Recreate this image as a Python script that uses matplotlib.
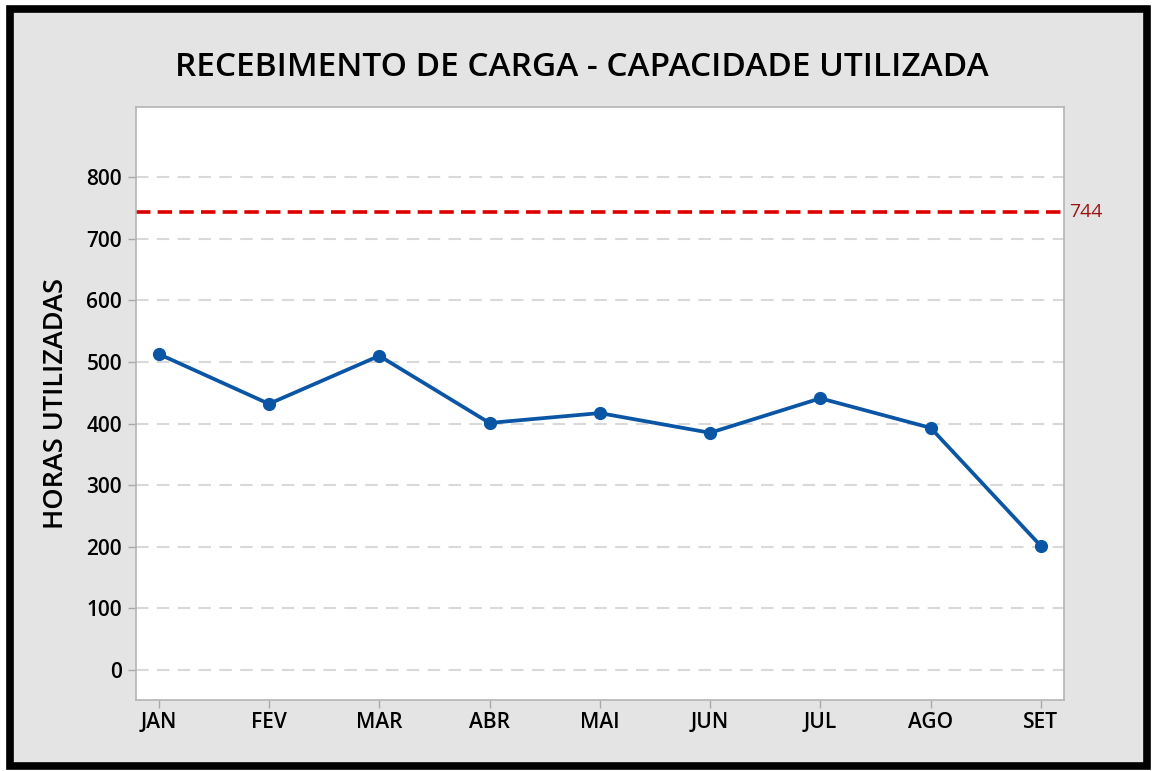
import matplotlib.pyplot as plt
from matplotlib.patches import Rectangle

meses = ["JAN", "FEV", "MAR", "ABR", "MAI", "JUN", "JUL", "AGO", "SET"]
horas = [513, 432, 510, 401, 417, 385, 441, 393, 201]
capacidade = 744
y_ticks = [0, 100, 200, 300, 400, 500, 600, 700, 800]

plt.rcParams["font.family"] = ["Open Sans", "DejaVu Sans"]

fig = plt.figure(figsize=(11.54, 7.71), dpi=100)
fig.patch.set_facecolor("#e4e4e4")

# moldura preta em volta da figura
fig.patches.append(Rectangle((0, 0), 1, 1, transform=fig.transFigure,
                             fill=False, edgecolor="white", linewidth=10))
fig.patches.append(Rectangle((0.009, 0.006), 0.985, 0.982, transform=fig.transFigure,
                             fill=False, edgecolor="black", linewidth=5.5))

ax = fig.add_axes([0.1179, 0.0921, 0.8042, 0.769])
ax.set_facecolor("white")

x = list(range(len(meses)))
ax.plot(x, horas, color="#0a56a5", linewidth=2.7, marker="o", markersize=8.5, zorder=3)
ax.axhline(capacidade, color="#dd0000", linewidth=2.6, linestyle=(0, (4, 2)), zorder=2)
ax.text(8.26, capacidade, str(capacidade), color="#9c1515", fontsize=14,
        va="center", ha="left", transform=ax.transData, clip_on=False)

ax.set_xlim(-0.205, 8.21)
ax.set_ylim(-49, 914)
ax.set_xticks(x)
ax.set_xticklabels(meses)
ax.set_yticks(y_ticks)
for t in y_ticks:
    ax.axhline(t, color="#d9d9d9", linewidth=1.5, linestyle=(0, (6, 4)), zorder=1)

ax.tick_params(axis="both", direction="out", length=6, width=1, color="#a8a8a8",
               labelsize=15, labelcolor="black")
for lab in ax.get_xticklabels() + ax.get_yticklabels():
    lab.set_fontweight("semibold")
ax.tick_params(axis="x", pad=3)
ax.tick_params(axis="y", pad=4)

for s in ax.spines.values():
    s.set_color("#b4b4b4")
    s.set_linewidth(1.2)

ax.set_ylabel("HORAS UTILIZADAS", fontsize=19.5, fontweight="semibold", labelpad=12)
fig.text(0.504, 0.912, "RECEBIMENTO DE CARGA - CAPACIDADE UTILIZADA",
         ha="center", va="center", fontsize=24, fontweight="semibold")

fig.savefig("out.png", dpi=100, facecolor=fig.get_facecolor())
